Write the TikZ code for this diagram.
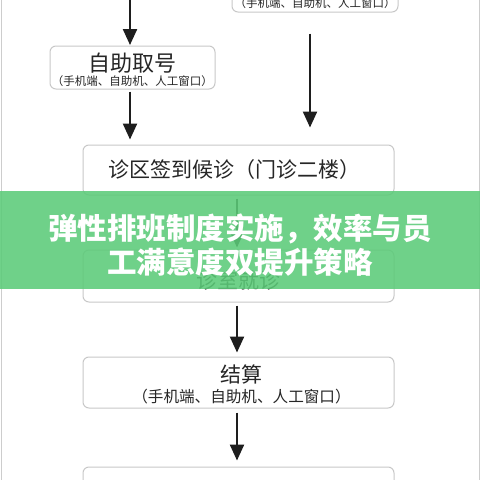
\documentclass[tikz,border=0pt]{standalone}
\usepackage{fontspec}
\newfontfamily\cjk{Noto Sans CJK SC}
\usetikzlibrary{arrows.meta,calc}
\definecolor{boxline}{RGB}{200,200,200}
\definecolor{arrowc}{RGB}{30,30,30}
\definecolor{banner}{RGB}{92,203,121}
\definecolor{frame}{RGB}{205,205,205}
\tikzset{
  flowbox/.style={draw=boxline,line width=1pt,rounded corners=6pt,fill=white,inner sep=0pt},
  arr/.style={draw=arrowc,line width=2.3pt,-{Triangle[width=14pt,length=16pt]}},
  title/.style={font=\cjk\fontsize{21}{24}\selectfont,text=black!85,inner sep=0pt},
  sub/.style={font=\cjk\fontsize{11.5}{13}\selectfont,text=black!85,inner sep=0pt},
  bantext/.style={font=\cjk\bfseries\fontsize{29.5}{34}\selectfont,text=white,align=center,inner sep=0pt}
}
\begin{document}
\begin{tikzpicture}[x=1pt,y=-1pt]
\useasboundingbox (0,0) rectangle (480,480);
\begin{scope}
\clip (0,0) rectangle (480,480);
\fill[white] (0,0) rectangle (480,480);
\draw[frame,line width=1pt] (1,-5) -- (1,485) (479,-5) -- (479,485);
% boxes
\node[flowbox,minimum width=166pt,minimum height=44pt] (tr) at (315,-10) {};
\node[sub] (trs) at (315,3) {（手机端、自助机、人工窗口）};
\node[flowbox,minimum width=165pt,minimum height=43pt] (a) at (132.5,67.5) {};
\node[title,font=\cjk\fontsize{22}{24}\selectfont] (at) at (132.5,63) {自助取号};
\node[sub] (as) at (132.5,81.5) {（手机端、自助机、人工窗口）};
\node[flowbox,minimum width=311pt,minimum height=50pt] (b) at (238.5,170) {};
\node[title] (bt) at (234.5,170) {诊区签到候诊（门诊二楼）};
\node[flowbox,minimum width=311pt,minimum height=52pt] (c) at (238.5,276) {};
\node[title] (ct) at (238.5,280) {诊室就诊};
\node[flowbox,minimum width=311pt,minimum height=51pt] (d) at (238.5,382.5) {};
\node[title] (dt) at (241.5,374) {结算};
\node[sub,font=\cjk\fontsize{15.6}{17}\selectfont] (ds) at (241.5,396.5) {（手机端、自助机、人工窗口）};
\node[flowbox,minimum width=311pt,minimum height=50pt] (e) at (238.5,492) {};
% arrows
\coordinate (top) at (130,-5);
\draw[arr] (top) -- (130,45);
\draw[arr] ([yshift=-2pt]a.south -| top) -- ([yshift=5pt]b.north -| top);
\draw[arr] ([yshift=-21pt]tr.south -| 310,0) -- ([yshift=17pt]b.north -| 310,0);
\draw[arr] ([yshift=-3pt]b.south -| 237,0) -- ([yshift=2pt]c.north -| 237,0);
\draw[arr] ([yshift=-3pt]c.south -| 237,0) -- ([yshift=4pt]d.north -| 237,0);
\draw[arr] ([yshift=-4pt]d.south -| 237,0) -- ([yshift=6pt]e.north -| 237,0);
% banner
\fill[banner,fill opacity=0.88] (0,191) rectangle (480,289);
\node[bantext] (ban) at (240,245) {弹性排班制度实施，效率与员\\工满意度双提升策略};
\end{scope}
\end{tikzpicture}
\end{document}
